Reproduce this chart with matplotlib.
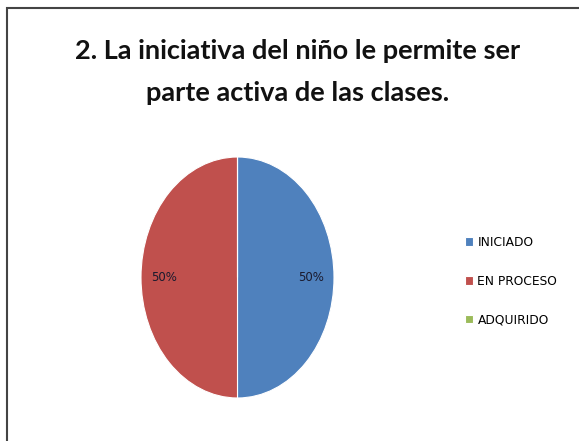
import matplotlib.pyplot as plt
from matplotlib.patches import Rectangle

# datos
categorias = ['INICIADO', 'EN PROCESO', 'ADQUIRIDO']
valores = [50, 50, 0]
colores = ['#4F81BD', '#C0504D', '#9BBB59']
titulo = '2. La iniciativa del niño le permite ser\nparte activa de las clases.'

fig = plt.figure(figsize=(5.79, 4.41), dpi=100)
fig.patches.append(Rectangle((7 / 579, -0.1), 1.2, 1 - 8 / 441 + 0.1,
                             transform=fig.transFigure, fill=False,
                             edgecolor='#444444', linewidth=1.5))

fig.text(0.514, 1 - 72 / 441, titulo, ha='center', va='center', fontsize=19.5,
         fontweight='bold', family='Lato', linespacing=1.9, color='#111111')

ax = fig.add_axes([141 / 579, 43 / 441, 193 / 579, 241 / 441])


def pct(p):
    return '%d%%' % round(p) if p > 0 else ''


wedges, textos, auto = ax.pie(valores, colors=colores, startangle=90,
                              counterclock=False, autopct=pct, pctdistance=0.76,
                              wedgeprops=dict(linewidth=0.8, edgecolor='white'),
                              textprops=dict(fontsize=8.5, color='#1a1a2e'))
ax.set_aspect('auto')
ax.set_xlim(-1, 1)
ax.set_ylim(-1, 1)

# leyenda
ax.legend(wedges, categorias, loc='center left', bbox_to_anchor=(1.62, 0.485),
          frameon=False, handlelength=0.7, handleheight=0.7, handletextpad=0.35,
          labelspacing=2.1, prop=dict(size=8.8))

fig.savefig('out.png', dpi=100)
